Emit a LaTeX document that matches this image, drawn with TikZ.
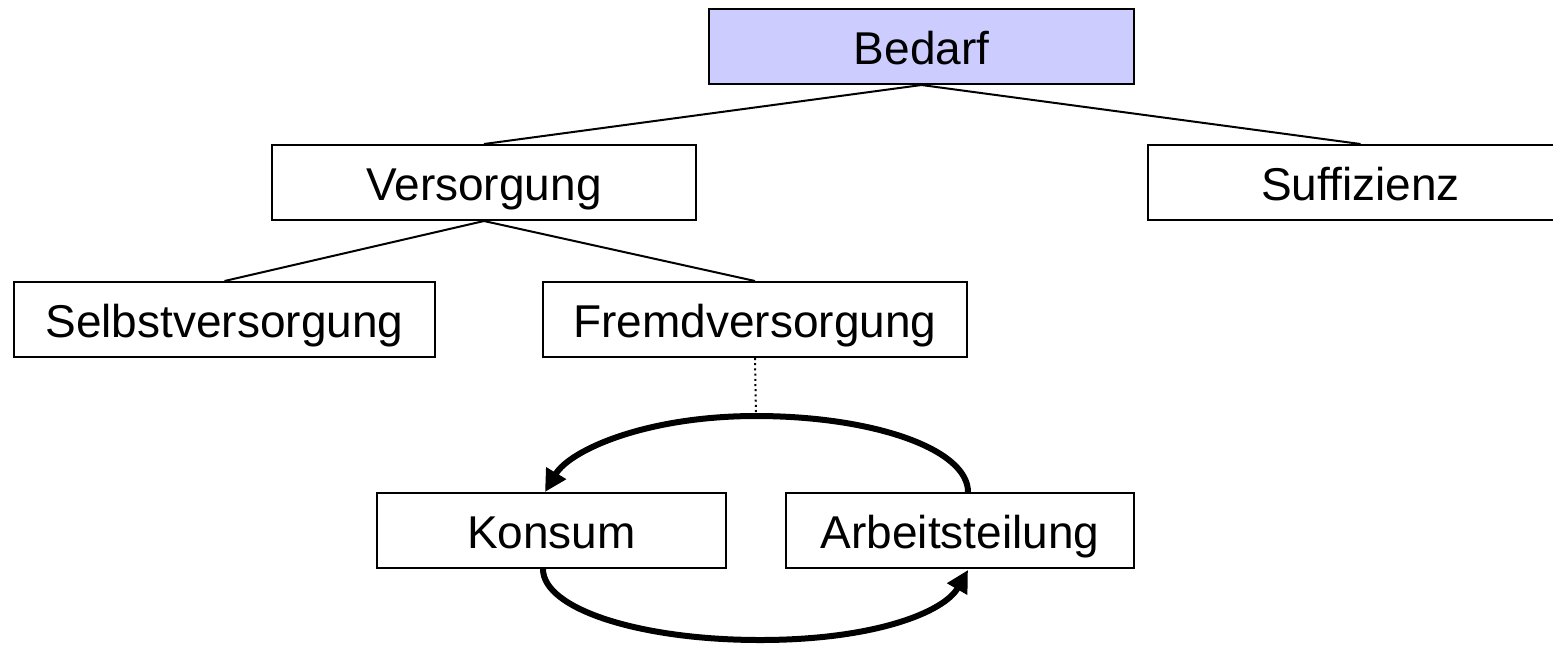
\documentclass[tikz,border=0pt]{standalone}
\usepackage{fontspec}
\setmainfont{Liberation Sans}
\usetikzlibrary{arrows.meta,calc}
\definecolor{bluefill}{RGB}{204,204,255}
\begin{document}
\begin{tikzpicture}[x=0.5pt,y=-0.5pt,
  box/.style={draw, line width=1pt, minimum height=37.5pt, inner sep=0pt,
    text height=19.5pt, text depth=1.1pt,
    font=\fontsize{23}{27}\selectfont},
  link/.style={line width=1pt},
  loopline/.style={line width=3pt, -{Triangle[length=11pt,width=11pt]}},
  hint/.style={line width=1pt, dash pattern=on 1pt off 1.6pt}]
\useasboundingbox (0,0) rectangle (1553,645);

% hierarchy boxes
\node[box, fill=bluefill, minimum width=212.5pt] (bedarf) at (921.5,46.5) {Bedarf};
\node[box, minimum width=212pt] (versorgung) at (484,182.5) {Versorgung};
\node[box, minimum width=212.5pt] (suffizienz) at (1360.5,182.5) {Suffizienz};
\node[box, minimum width=210.5pt] (selbst) at (224.5,319.5) {Selbstversorgung};
\node[box, minimum width=212pt] (fremd) at (755,319.5) {Fremdversorgung};
\node[box, minimum width=174.5pt] (konsum) at (551.5,530.5) {Konsum};
\node[box, minimum width=174pt] (arbeit) at (960,530.5) {Arbeitsteilung};

% tree links
\draw[link] (bedarf.south) -- (versorgung.north);
\draw[link] (bedarf.south) -- (suffizienz.north);
\draw[link] (versorgung.south) -- (selbst.north);
\draw[link] (versorgung.south) -- (fremd.north);

% cycle between consumption and division of labour
\coordinate (looptop) at (756,416);
\coordinate (loopbot) at (760,640);
\coordinate (a1) at ($(arbeit.north)+(8,0)$);
\coordinate (k1) at ($(konsum.north)+(-6.5,0)$);
\coordinate (k2) at ($(konsum.south)+(-8.5,0)$);
\coordinate (a2) at ($(arbeit.south)+(8,1)$);

\draw[hint] (fremd.south) -- (looptop);

\draw[loopline] (a1) .. controls +(0,-43) and +(117,0) .. (looptop)
  .. controls +(-110,0) and +(25,-42) .. (k1);
\draw[loopline] (k2) .. controls +(0,40) and +(-120,0) .. (loopbot)
  .. controls +(115,0) and +(-24,42) .. (a2);
\end{tikzpicture}
\end{document}
